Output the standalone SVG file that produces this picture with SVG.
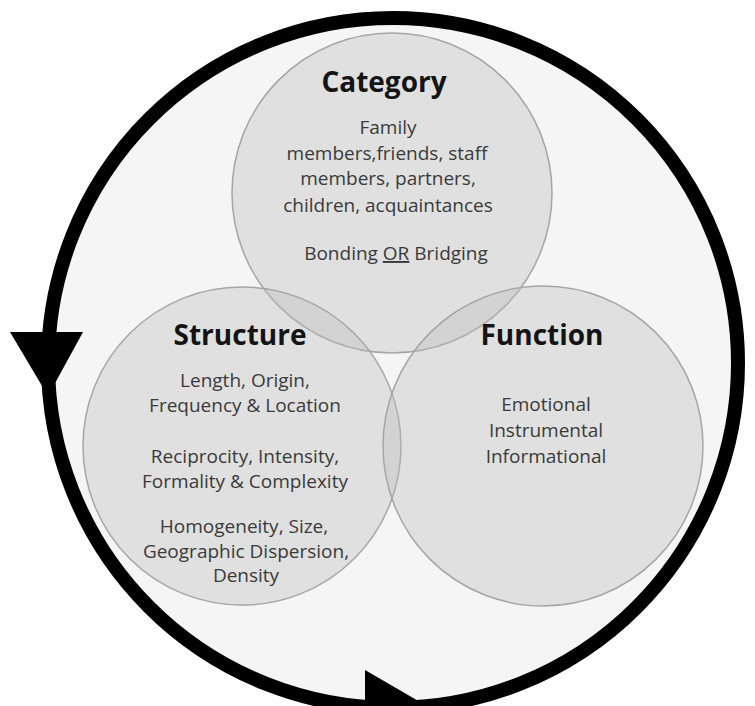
<svg xmlns="http://www.w3.org/2000/svg" width="755" height="706" viewBox="0 0 755 706">
  <style>
    .set { fill: #bdbdbd; fill-opacity: 0.36; stroke: #a6a6a6; stroke-width: 1.5; }
    .title { font-family: "Open Sans", "Liberation Sans", sans-serif; font-weight: bold; font-size: 28px; fill: #141414; text-anchor: middle; }
    .body { font-family: "Open Sans", "Liberation Sans", sans-serif; font-size: 19px; fill: #3a3a3a; text-anchor: middle; }
    .ring { fill: none; stroke: #000; stroke-width: 14; }
    .head { fill: #000; }
  </style>
  <rect width="755" height="706" fill="#fff"/>
  <!-- shaded area enclosed by the cycle -->
  <circle cx="393" cy="363" r="345" fill="#f5f5f5"/>

  <g id="category">
    <circle class="set" cx="392" cy="193" r="160"/>
    <text class="title" x="384" y="92">Category</text>
    <text class="body" x="388" y="134">Family</text>
    <text class="body" x="387" y="160">members,friends, staff</text>
    <text class="body" x="388" y="185">members, partners,</text>
    <text class="body" x="388" y="212">children, acquaintances</text>
    <text class="body" x="396" y="260">Bonding <tspan text-decoration="underline">OR</tspan> Bridging</text>
  </g>

  <g id="structure">
    <circle class="set" cx="242" cy="446" r="159"/>
    <text class="title" x="240" y="345">Structure</text>
    <text class="body" x="245" y="387">Length, Origin,</text>
    <text class="body" x="245" y="412">Frequency &amp; Location</text>
    <text class="body" x="245" y="463">Reciprocity, Intensity,</text>
    <text class="body" x="245" y="488">Formality &amp; Complexity</text>
    <text class="body" x="244" y="533">Homogeneity, Size,</text>
    <text class="body" x="246" y="558">Geographic Dispersion,</text>
    <text class="body" x="246" y="582">Density</text>
  </g>

  <g id="function">
    <circle class="set" cx="543" cy="446" r="160"/>
    <text class="title" x="542" y="345">Function</text>
    <text class="body" x="546" y="411">Emotional</text>
    <text class="body" x="546" y="437">Instrumental</text>
    <text class="body" x="546" y="463">Informational</text>
  </g>

  <!-- the cycle and its direction arrows -->
  <g id="connectors">
    <circle class="ring" cx="393" cy="363" r="345"/>
    <polygon class="head" points="10,332 83,332 48,396"/>
    <polygon class="head" points="365,670 427,706 365,742"/>
  </g>
</svg>
